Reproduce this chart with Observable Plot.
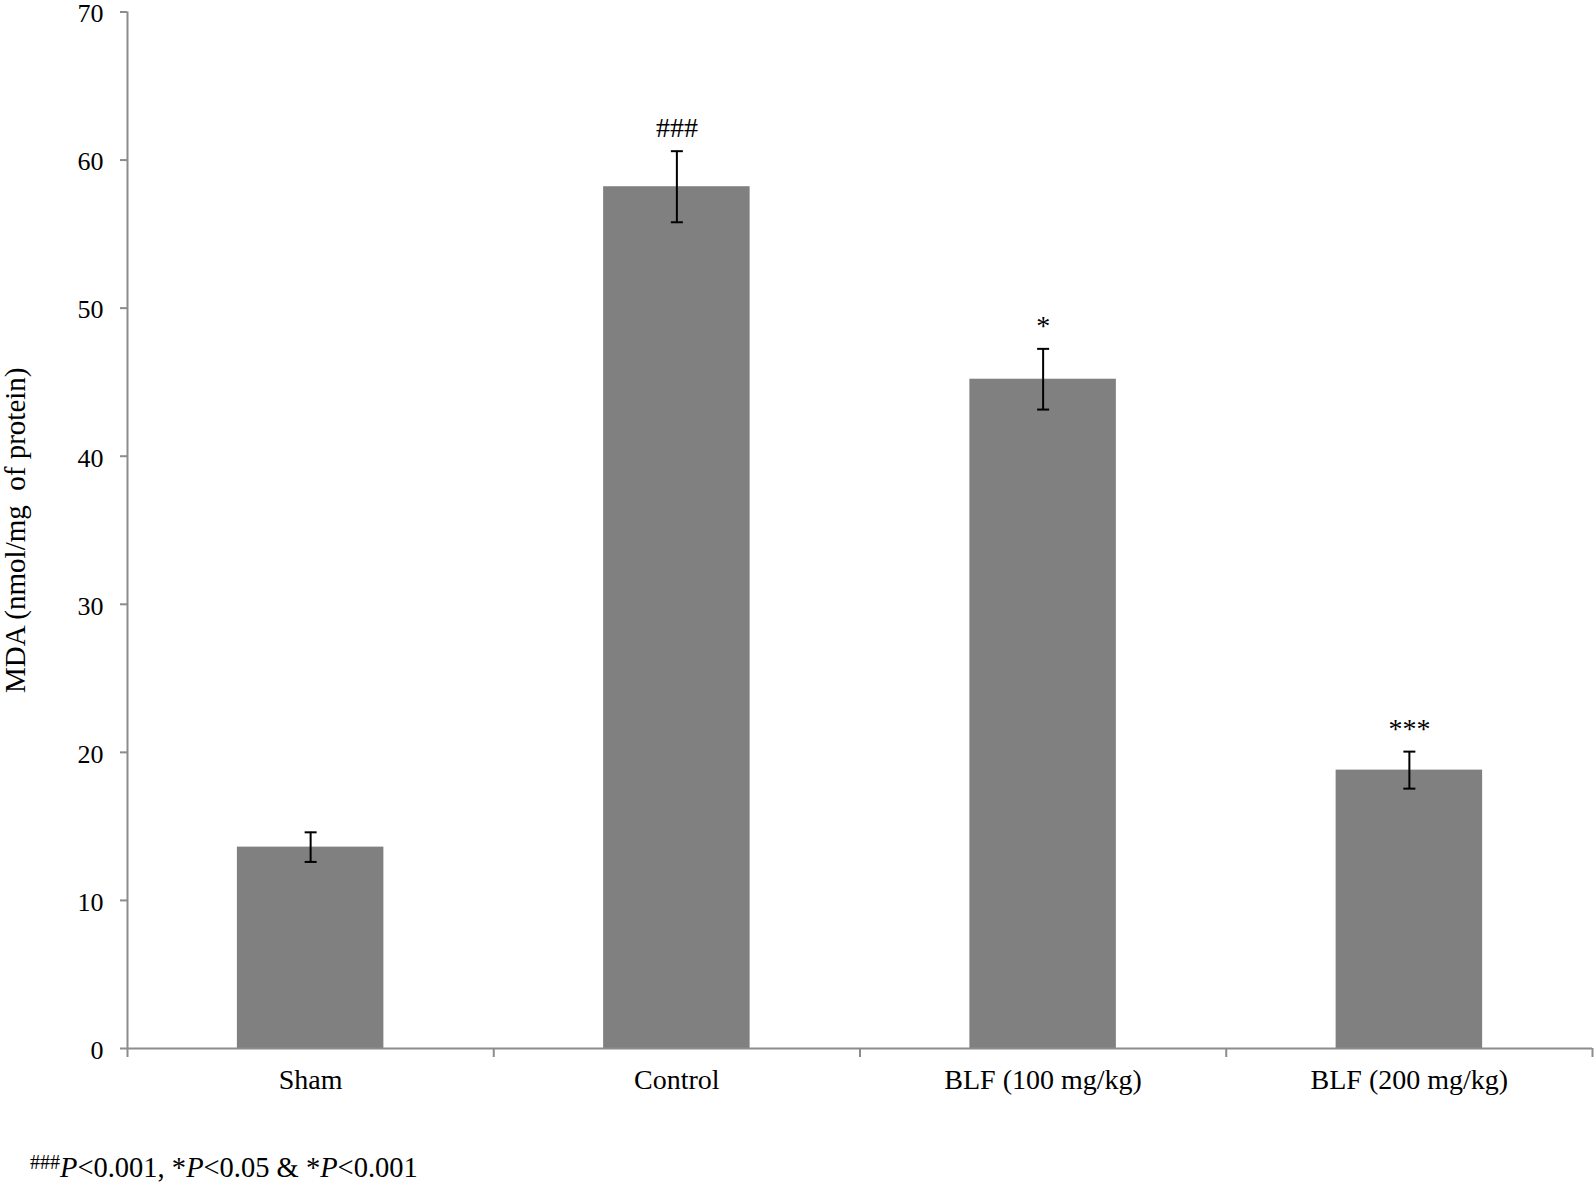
<!DOCTYPE html>
<html><head><meta charset="utf-8">
<script src="https://cdn.jsdelivr.net/npm/d3@7"></script>
<script src="https://cdn.jsdelivr.net/npm/@observablehq/plot@0.6"></script>
<style>
body{margin:0;background:#fff;}
#cap{position:absolute;left:30px;top:1152px;font-family:"Liberation Serif";font-size:28.5px;line-height:1;color:#000;white-space:nowrap}
#cap sup{font-size:20px;vertical-align:8px}
</style>
</head><body><div id="chart"></div><div id="cap"><sup>###</sup><i>P</i>&lt;0.001, *<i>P</i>&lt;0.05 &amp; *<i>P</i>&lt;0.001</div>
<script>
const categories = ["Sham", "Control", "BLF (100 mg/kg)", "BLF (200 mg/kg)"];
const means = [13.6, 58.2, 45.2, 18.8];
const errors = [1.0, 2.4, 2.05, 1.25];
const signif = ["", "###", "*", "***"];
const yTicks = [0, 10, 20, 30, 40, 50, 60, 70];
const yLabel = "MDA (nmol/mg\u00a0 of protein)";

const data = categories.map((c, i) => ({i, c, v: means[i], e: errors[i], s: signif[i]}));
const barHalf = 0.2;
const capSymbol = {draw(ctx, size) { const r = Math.sqrt(size / Math.PI); ctx.moveTo(-r, 0); ctx.lineTo(r, 0); }};
const axisColor = "#8c8c8c";
const cx = d => d.i + 0.5;

const chart = Plot.plot({
  width: 1595, height: 1120,
  marginLeft: 127, marginRight: 3, marginTop: 11.5, marginBottom: 72,
  style: {fontFamily: "Liberation Serif", fontSize: "27px", color: "#000", background: "#fff"},
  x: {domain: [0, categories.length]},
  y: {domain: [0, 70]},
  marks: [
    Plot.rectY(data, {x1: d => d.i + 0.5 - barHalf, x2: d => d.i + 0.5 + barHalf, y: "v", fill: "#808080"}),
    Plot.ruleY([0], {stroke: axisColor, strokeWidth: 2}),
    Plot.ruleX([0], {stroke: axisColor, strokeWidth: 2}),
    Plot.axisY({ticks: yTicks, tickSize: 7, tickFormat: () => "", stroke: axisColor, strokeWidth: 2, label: null}),
    Plot.axisY({ticks: yTicks, tickSize: 0, tickPadding: 24, fontSize: 26, dy: 2, label: null}),
    Plot.axisY({ticks: [], tickSize: 0, fontSize: 29,
      label: yLabel, labelAnchor: "center", labelOffset: 123, labelArrow: false}),
    Plot.axisX({ticks: d3.range(categories.length + 1), tickSize: 9, tickFormat: () => "", stroke: axisColor, strokeWidth: 2, label: null}),
    Plot.axisX({ticks: d3.range(categories.length).map(i => i + 0.5), tickSize: 0, tickPadding: 21,
      tickFormat: t => categories[Math.floor(t)], fontSize: 28, label: null}),
    Plot.ruleX(data, {x: cx, y1: d => d.v - d.e, y2: d => d.v + d.e, stroke: "#000", strokeWidth: 2}),
    Plot.dot(data, {x: cx, y: d => d.v + d.e, symbol: capSymbol, r: 6, stroke: "#000", strokeWidth: 2, fill: "none"}),
    Plot.dot(data, {x: cx, y: d => d.v - d.e, symbol: capSymbol, r: 6, stroke: "#000", strokeWidth: 2, fill: "none"}),
    Plot.text(data, {x: cx, y: d => d.v + d.e, text: "s", dy: -14, lineAnchor: "bottom", fontSize: 28, fill: "#000"})
  ]
});
document.getElementById("chart").appendChild(chart);
</script>
</body></html>
